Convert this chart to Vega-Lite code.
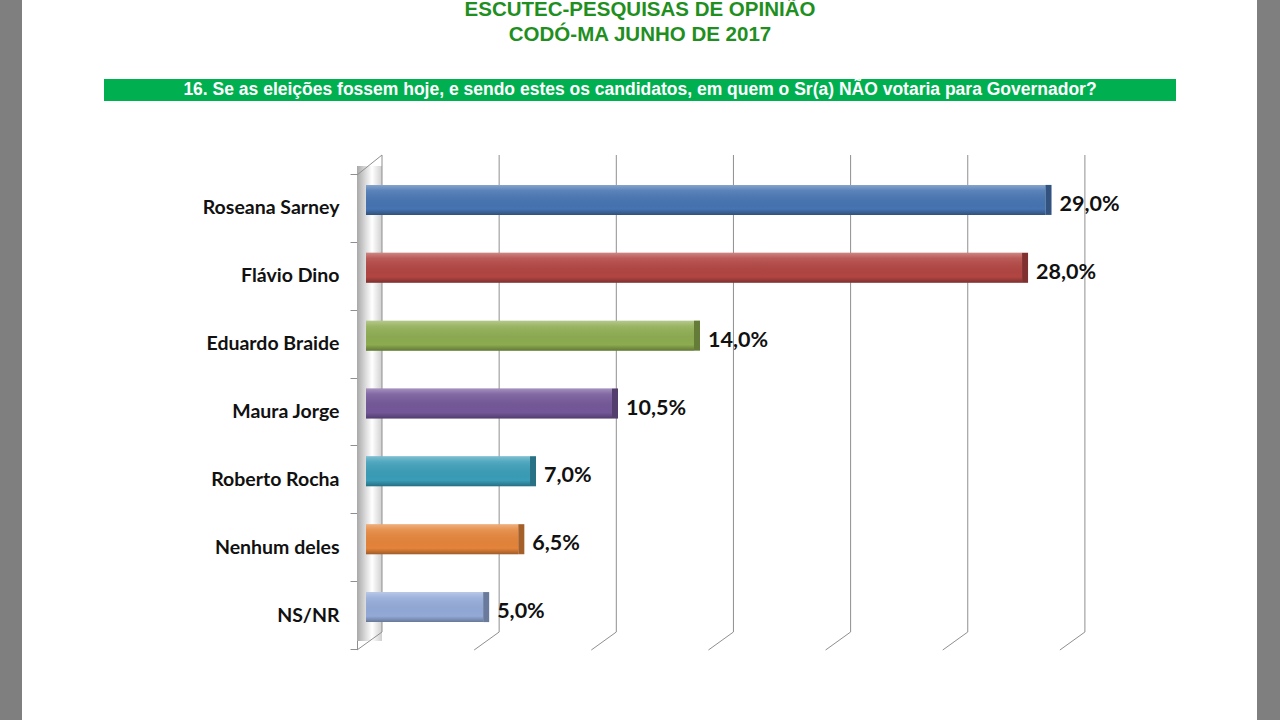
{
  "$schema": "https://vega.github.io/schema/vega-lite/v6.json",
  "width": 1235,
  "height": 720,
  "autosize": {"type": "none"},
  "padding": {"left": 22, "right": 23, "top": 0, "bottom": 0},
  "background": "#7f7f7f",
  "config": {
    "view": {"fill": "white", "stroke": null},
    "locale": {"number": {"decimal": ",", "thousands": ".", "grouping": [3], "currency": ["R$", ""]}}
  },
  "datasets": {
    "votes": [
      {"cand": "Roseana Sarney", "pct": 0.29},
      {"cand": "Flávio Dino", "pct": 0.28},
      {"cand": "Eduardo Braide", "pct": 0.14},
      {"cand": "Maura Jorge", "pct": 0.105},
      {"cand": "Roberto Rocha", "pct": 0.07},
      {"cand": "Nenhum deles", "pct": 0.065},
      {"cand": "NS/NR", "pct": 0.05}
    ],
    "grid": [{"t": 0}, {"t": 0.05}, {"t": 0.1}, {"t": 0.15}, {"t": 0.2}, {"t": 0.25}, {"t": 0.3}],
    "wall": [{"w": 0}],
    "heading": [{"question": "16. Se as eleições fossem hoje, e sendo estes os candidatos, em quem o Sr(a) NÃO votaria para Governador?", "l1": "ESCUTEC-PESQUISAS DE OPINIÃO", "l2": "CODÓ-MA JUNHO DE 2017"}]
  },
  "layer": [
    {
      "data": {"name": "wall"},
      "mark": {"type": "rect", "xOffset": -9, "x2Offset": 16,
        "color": {"gradient": "linear", "x1": 0, "y1": 0, "x2": 1, "y2": 0,
          "stops": [{"offset": 0, "color": "#a8a8a8"}, {"offset": 0.35, "color": "#dcdcdc"}, {"offset": 0.6, "color": "#ffffff"}, {"offset": 1, "color": "#cfcfcf"}]}},
      "encoding": {
        "x": {"field": "w", "type": "quantitative", "scale": {"domain": [-0.14682, 0.38028], "nice": false, "zero": false}, "axis": null},
        "x2": {"field": "w"},
        "y": {"value": 166},
        "y2": {"value": 641}
      }
    },
    {
      "data": {"name": "grid"},
      "mark": {"type": "rule", "xOffset": 16, "color": "#8f8f8f", "strokeWidth": 1},
      "encoding": {
        "x": {"field": "t", "type": "quantitative"},
        "y": {"value": 155},
        "y2": {"value": 632}
      }
    },
    {
      "data": {"name": "grid"},
      "mark": {"type": "rule", "xOffset": 16, "x2Offset": -9, "color": "#8f8f8f", "strokeWidth": 1},
      "encoding": {
        "x": {"field": "t", "type": "quantitative"},
        "x2": {"field": "t"},
        "y": {"value": 632},
        "y2": {"value": 650}
      }
    },
    {
      "data": {"name": "wall"},
      "mark": {"type": "rule", "xOffset": -9, "x2Offset": 16, "color": "#8f8f8f", "strokeWidth": 1},
      "encoding": {
        "x": {"field": "w", "type": "quantitative"},
        "x2": {"field": "w"},
        "y": {"value": 175},
        "y2": {"value": 155}
      }
    },
    {
      "data": {"name": "votes"},
      "mark": {"type": "bar", "size": 30, "yOffset": -8},
      "encoding": {
        "y": {"field": "cand", "type": "nominal", "sort": null,
          "scale": {"range": [174, 649], "paddingInner": 0, "paddingOuter": 0},
          "axis": {"orient": "left", "offset": -335, "title": null, "grid": false,
            "domainColor": "#8f8f8f", "tickColor": "#8f8f8f", "tickSize": 7, "tickBand": "extent",
            "labelFont": "Lato", "labelFontWeight": "bold", "labelFontSize": 19.5, "labelColor": "#111111",
            "labelPadding": 11, "labelLimit": 400}},
        "x": {"field": "pct", "type": "quantitative"},
        "color": {"field": "cand", "type": "nominal", "sort": null, "legend": null,
          "scale": {"domain": ["Roseana Sarney", "Flávio Dino", "Eduardo Braide", "Maura Jorge", "Roberto Rocha", "Nenhum deles", "NS/NR"],
            "range": ["#4674b2", "#b24542", "#8dac50", "#745799", "#3a9db8", "#e5843a", "#93aad8"]}}
      }
    },
    {
      "data": {"name": "votes"},
      "mark": {"type": "bar", "size": 30, "yOffset": -8,
        "color": {"gradient": "linear", "x1": 0, "y1": 0, "x2": 0, "y2": 1,
          "stops": [{"offset": 0, "color": "rgba(255,255,255,0.35)"}, {"offset": 0.18, "color": "rgba(255,255,255,0.12)"}, {"offset": 0.8, "color": "rgba(0,0,0,0)"}, {"offset": 1, "color": "rgba(0,0,0,0.3)"}]}},
      "encoding": {
        "y": {"field": "cand", "type": "nominal", "sort": null},
        "x": {"field": "pct", "type": "quantitative"}
      }
    },
    {
      "data": {"name": "votes"},
      "mark": {"type": "tick", "orient": "vertical", "thickness": 6, "size": 30, "xOffset": 3, "yOffset": -8, "opacity": 1},
      "encoding": {
        "y": {"field": "cand", "type": "nominal", "sort": null},
        "x": {"field": "pct", "type": "quantitative"},
        "color": {"field": "cand", "type": "nominal", "sort": null, "legend": null}
      }
    },
    {
      "data": {"name": "votes"},
      "mark": {"type": "tick", "orient": "vertical", "thickness": 6, "size": 30, "xOffset": 3, "yOffset": -8, "color": "black", "opacity": 0.28},
      "encoding": {
        "y": {"field": "cand", "type": "nominal", "sort": null},
        "x": {"field": "pct", "type": "quantitative"}
      }
    },
    {
      "data": {"name": "votes"},
      "mark": {"type": "text", "align": "left", "baseline": "middle", "dx": 14, "yOffset": -3,
        "font": "Lato", "fontWeight": "bold", "fontSize": 21.5, "color": "#111111"},
      "encoding": {
        "y": {"field": "cand", "type": "nominal", "sort": null},
        "x": {"field": "pct", "type": "quantitative"},
        "text": {"field": "pct", "type": "quantitative", "format": ".1%"}
      }
    },
    {
      "data": {"name": "heading"},
      "mark": {"type": "rect", "color": "#00b050"},
      "encoding": {
        "x": {"value": 82},
        "x2": {"value": 1154},
        "y": {"value": 79},
        "y2": {"value": 101}
      }
    },
    {
      "data": {"name": "heading"},
      "mark": {"type": "text", "align": "center", "baseline": "middle",
        "font": "Liberation Sans", "fontWeight": "bold", "fontSize": 17.5, "color": "white"},
      "encoding": {
        "x": {"value": 618},
        "y": {"value": 90},
        "text": {"field": "question", "type": "nominal"}
      }
    },
    {
      "data": {"name": "heading"},
      "mark": {"type": "text", "align": "center", "baseline": "alphabetic",
        "font": "Liberation Sans", "fontWeight": "bold", "fontSize": 20.5, "color": "#1f8f1f"},
      "encoding": {
        "x": {"value": 618},
        "y": {"value": 16},
        "text": {"field": "l1", "type": "nominal"}
      }
    },
    {
      "data": {"name": "heading"},
      "mark": {"type": "text", "align": "center", "baseline": "alphabetic",
        "font": "Liberation Sans", "fontWeight": "bold", "fontSize": 20.5, "color": "#1f8f1f"},
      "encoding": {
        "x": {"value": 618},
        "y": {"value": 41},
        "text": {"field": "l2", "type": "nominal"}
      }
    }
  ],
  "resolve": {"scale": {"x": "shared"}}
}
